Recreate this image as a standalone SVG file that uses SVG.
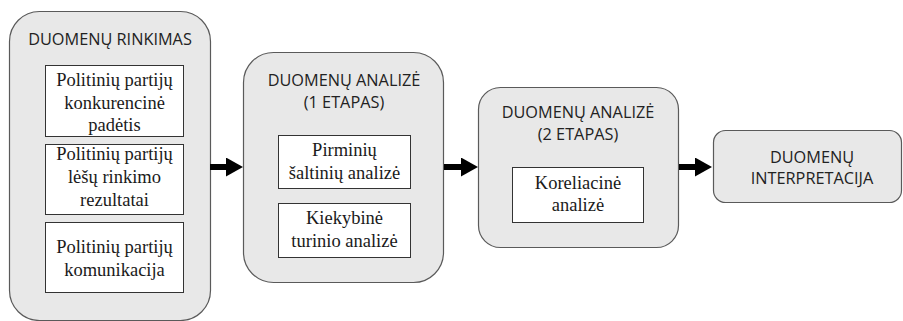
<svg xmlns="http://www.w3.org/2000/svg" width="903" height="321" viewBox="0 0 903 321">
<style>
.outer{fill:#e8e8e8;stroke:#5a5a5a;stroke-width:1.2}
.inner{fill:#ffffff;stroke:#333333;stroke-width:1}
.ttl{font-family:"Open Sans","Liberation Sans",sans-serif;font-size:16.3px;fill:#222222;text-anchor:middle}
.txt{font-family:"Liberation Serif","Times New Roman",serif;font-size:18.5px;fill:#1a1a1a;text-anchor:middle}
.arr{stroke:#000000;stroke-width:6;fill:none}
</style>
<defs>
<marker id="head" markerUnits="userSpaceOnUse" markerWidth="17" markerHeight="19" refX="0" refY="9.5" orient="auto">
<path d="M0,0 L17,9.5 L0,19 Z" fill="#000000"/>
</marker>
</defs>
<rect width="903" height="321" fill="#ffffff"/>
<g id="rinkimas">
<rect class="outer" x="9.5" y="11.5" width="201" height="309" rx="30" ry="30"/>
<text class="ttl" x="110" y="45">DUOMENŲ RINKIMAS</text>
<rect class="inner" x="45.5" y="65.5" width="138" height="71"/>
<text class="txt" x="114.5" y="86">Politinių partijų</text>
<text class="txt" x="114.5" y="109">konkurencinė</text>
<text class="txt" x="114.5" y="131">padėtis</text>
<rect class="inner" x="45.5" y="144.5" width="138" height="70"/>
<text class="txt" x="114.5" y="160">Politinių partijų</text>
<text class="txt" x="114.5" y="183">lėšų rinkimo</text>
<text class="txt" x="114.5" y="206">rezultatai</text>
<rect class="inner" x="45.5" y="222.5" width="138" height="70"/>
<text class="txt" x="114.5" y="253">Politinių partijų</text>
<text class="txt" x="114.5" y="276">komunikacija</text>
</g>
<g id="analize1">
<rect class="outer" x="243.5" y="52.5" width="200" height="230" rx="30" ry="30"/>
<text class="ttl" x="344" y="86">DUOMENŲ ANALIZĖ</text>
<text class="ttl" x="344" y="108">(1 ETAPAS)</text>
<rect class="inner" x="278.5" y="135.5" width="132" height="53"/>
<text class="txt" x="344.5" y="156">Pirminių</text>
<text class="txt" x="344.5" y="179">šaltinių analizė</text>
<rect class="inner" x="278.5" y="203.5" width="132" height="54"/>
<text class="txt" x="344.5" y="224">Kiekybinė</text>
<text class="txt" x="344.5" y="247">turinio analizė</text>
</g>
<g id="analize2">
<rect class="outer" x="478.5" y="87.5" width="200" height="160" rx="22" ry="22"/>
<text class="ttl" x="578" y="118">DUOMENŲ ANALIZĖ</text>
<text class="ttl" x="578" y="140">(2 ETAPAS)</text>
<rect class="inner" x="512.5" y="167.5" width="131" height="55"/>
<text class="txt" x="578" y="189">Koreliacinė</text>
<text class="txt" x="578" y="211">analizė</text>
</g>
<g id="interpretacija">
<rect class="outer" x="713.5" y="130.5" width="188" height="72" rx="12" ry="12"/>
<text class="ttl" x="812" y="163">DUOMENŲ</text>
<text class="ttl" x="812" y="184">INTERPRETACIJA</text>
</g>
<g id="connectors">
<line class="arr" x1="210" y1="167" x2="226" y2="167" marker-end="url(#head)"/>
<line class="arr" x1="444" y1="167" x2="461" y2="167" marker-end="url(#head)"/>
<line class="arr" x1="679" y1="167" x2="695" y2="167" marker-end="url(#head)"/>
</g>
</svg>
